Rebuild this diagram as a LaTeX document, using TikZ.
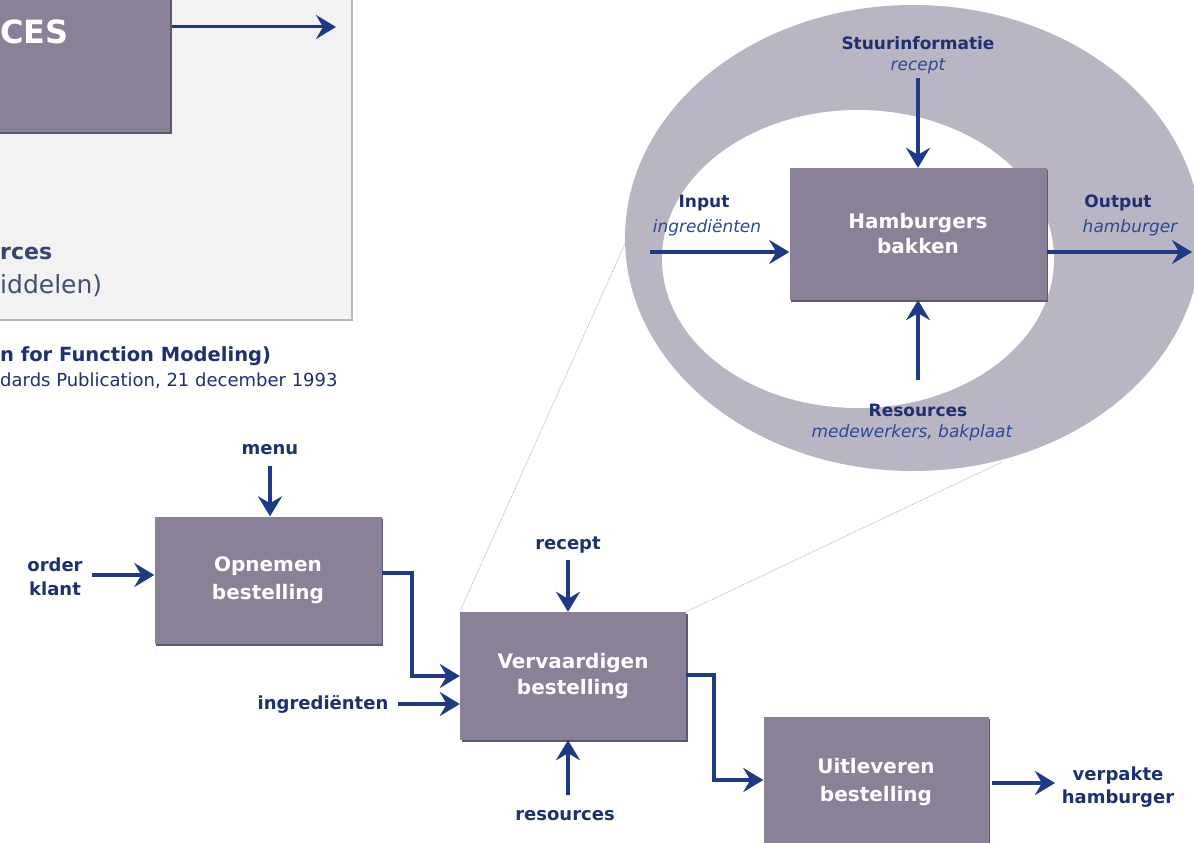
\documentclass[tikz,border=0pt]{standalone}
\usepackage{fontspec}
\setmainfont{DejaVu Sans}
\usetikzlibrary{arrows.meta,shadows}
\definecolor{boxc}{HTML}{8A8098}
\definecolor{boxdark}{HTML}{5E5870}
\definecolor{arrc}{HTML}{1F3A85}
\definecolor{labc}{HTML}{1E3070}
\definecolor{itac}{HTML}{2C4A94}
\definecolor{ellc}{HTML}{B9B5C3}
\definecolor{panelc}{HTML}{F2F2F2}
\definecolor{panelb}{HTML}{B8B8B8}
\definecolor{tlc}{HTML}{34456E}
\newcommand{\fs}[2]{\fontsize{#1}{#2}\selectfont}
\tikzset{
  proc/.style={rectangle, fill=boxc, text=white, align=center,
    font=\fs{20}{28}\bfseries, inner sep=0pt,
    drop shadow={shadow xshift=1.5pt, shadow yshift=-2pt, fill=boxdark, opacity=1}},
  flow/.style={line width=3.8pt, draw=arrc,
    -{Stealth[length=20pt, width=24pt, inset=7pt]}},
  lab/.style={text=labc, font=\fs{18}{24}\bfseries, align=center, inner sep=0pt},
  elab/.style={text=labc, font=\fs{17}{20}\bfseries, align=center, inner sep=0pt},
  ital/.style={text=itac, font=\fs{17}{20}\itshape, align=center, inner sep=0pt},
  zoomline/.style={draw=gray!60, densely dotted, line width=0.8pt}
}
\begin{document}
\begin{tikzpicture}[x=1pt,y=-1pt]
\clip (0,0) rectangle (1194,843);
\fill[white] (0,0) rectangle (1194,843);
% top-left panel
\draw[fill=panelc, draw=panelb, line width=1.5pt] (-20,-20) rectangle (352,320);
\node[proc, minimum width=190pt, minimum height=142pt, anchor=north west] (tlbox) at (-20,-10) {};
\node[text=white, font=\fs{32}{38}\bfseries, anchor=west, inner sep=0pt] (ces) at (0,32) {CES};
\coordinate (tla) at (172,27);
\coordinate (tlb) at (336,27);
\draw[flow, line width=3pt] (tla) -- (tlb);
\node[text=tlc, font=\fs{22}{26}\bfseries, anchor=west, inner sep=0pt] (rces) at (0,253) {rces};
\node[text=tlc!80!gray, font=\fs{25}{28}, anchor=west, inner sep=0pt] (midd) at (0,286) {iddelen)};
\node[text=labc, font=\fs{19.5}{22}\bfseries, anchor=west, inner sep=0pt] (idef) at (0,356) {n for Function Modeling)};
\node[text=labc, font=\fs{18}{20}, anchor=west, inner sep=0pt] (pub) at (0,381) {dards Publication, 21 december 1993};
% ellipse
\fill[ellc] (913,238) ellipse [x radius=288, y radius=233];
\fill[white] (858,259) ellipse [x radius=196, y radius=149];
\coordinate (ellL) at (628,237);
\coordinate (ellR) at (1002,462);
% zoomed process
\node[proc, minimum width=257pt, minimum height=132pt, font=\fs{20}{25}\bfseries] (hb) at (918,234) {Hamburgers\\bakken};
\node[elab] (stuur) at (918,43) {Stuurinformatie};
\node[ital] (rec1) at (918,66) {recept};
\coordinate (stuurA) at (918,78);
\draw[flow] (stuurA) -- (hb.north);
\node[elab] (inp) at (704,203) {Input};
\node[ital] (ingr1) at (707,228) {ingrediënten};
\coordinate (inA) at (650,252);
\draw[flow] (inA) -- (hb.west |- inA);
\node[elab] (outp) at (1118,203) {Output};
\node[ital] (hamb1) at (1130,228) {hamburger};
\coordinate (outB) at (1192,252);
\draw[flow] (hb.east |- outB) -- (outB);
\node[elab] (res1) at (918,410) {Resources};
\node[ital] (mede) at (912,433) {medewerkers, bakplaat};
\coordinate (resA) at (918,380);
\draw[flow] (resA) -- (hb.south);
% bottom processes
\node[proc, minimum width=227pt, minimum height=127pt] (opn) at (268,580) {Opnemen\\bestelling};
\node[proc, minimum width=226pt, minimum height=128pt, font=\fs{20}{26}\bfseries] (ver) at (573,676) {Vervaardigen\\bestelling};
\node[proc, minimum width=225pt, minimum height=130pt] (uit) at (876,782) {Uitleveren\\bestelling};
\draw[zoomline] (ver.north west) -- (ellL);
\draw[zoomline] (ver.north east) -- (ellR);
% labels
\node[lab] (menu) at (270,450) {menu};
\coordinate (menuA) at (270,466);
\draw[flow] (menuA) -- (opn.north -| menuA);
\node[lab] (order) at (55,577) {order\\klant};
\coordinate (orderA) at (92,575);
\draw[flow] (orderA) -- (opn.west |- orderA);
\draw[flow] (opn.east |- 0,573) -| (412,676) -- (ver.west |- 0,676);
\node[lab] (ingr) at (323,704) {ingrediënten};
\coordinate (ingrA) at (398,704);
\draw[flow] (ingrA) -- (ver.west |- ingrA);
\node[lab] (rec) at (568,545) {recept};
\coordinate (recA) at (568,560);
\draw[flow] (recA) -- (ver.north -| recA);
\node[lab] (resrc) at (565,816) {resources};
\coordinate (resrcA) at (568,795);
\draw[flow] (resrcA) -- (ver.south -| resrcA);
\draw[flow] (ver.east |- 0,675) -| (714,780) -- (uit.west |- 0,780);
\coordinate (outA) at (992,783);
\coordinate (outC) at (1055,783);
\draw[flow] (outA) -- (outC);
\node[lab, font=\fs{18}{23}\bfseries] (verp) at (1118,787) {verpakte\\hamburger};
\end{tikzpicture}
\end{document}
